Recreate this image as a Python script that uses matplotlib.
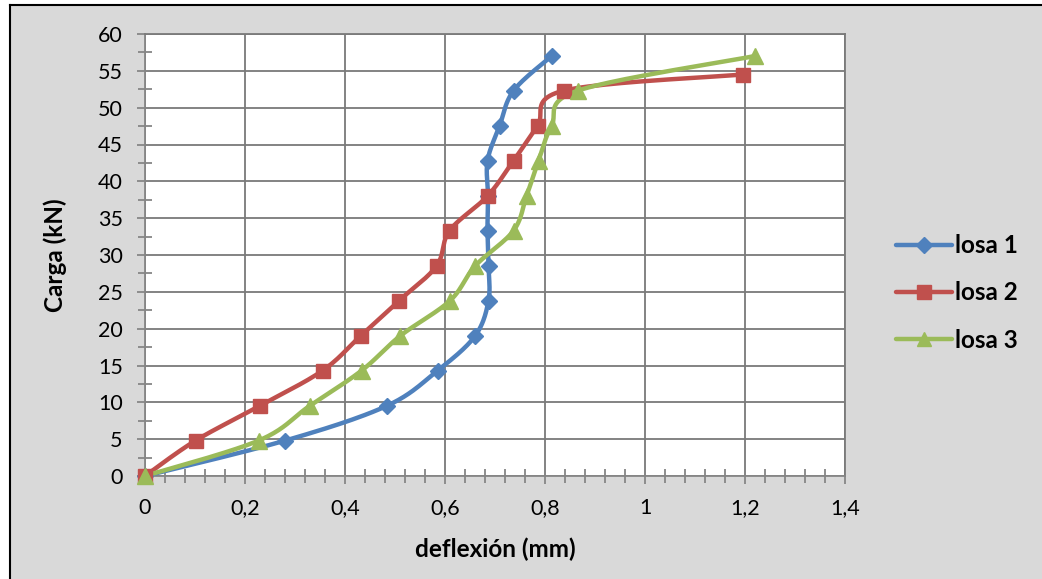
import numpy as np
import matplotlib
matplotlib.use("Agg")
import matplotlib.pyplot as plt
from matplotlib.patches import Rectangle
from matplotlib.lines import Line2D
from matplotlib.ticker import MultipleLocator, FuncFormatter

plt.rcParams['font.family'] = ['Lato', 'DejaVu Sans']

# Load–deflection readings for the three slabs
carga = [0, 4.8, 9.5, 14.3, 19.0, 23.8, 28.5, 33.3, 38.0, 42.8, 47.5, 52.3, 57.0]
losa1_x = [0, 0.28, 0.483, 0.585, 0.66, 0.687, 0.687, 0.685, 0.686, 0.685, 0.709, 0.737, 0.813]

carga2 = [0, 4.8, 9.5, 14.3, 19.0, 23.8, 28.5, 33.3, 38.0, 42.8, 47.5, 52.3, 54.5]
losa2_x = [0, 0.101, 0.229, 0.355, 0.431, 0.508, 0.583, 0.609, 0.685, 0.737, 0.785, 0.837, 1.195]

carga3 = [0, 4.8, 9.5, 14.3, 19.0, 23.8, 28.5, 33.3, 38.0, 42.8, 47.5, 52.3, 57.0]
losa3_x = [0, 0.227, 0.329, 0.433, 0.51, 0.61, 0.66, 0.737, 0.763, 0.787, 0.813, 0.865, 1.219]

series = [
    ("losa 1", losa1_x, carga, "#4F81BD", "D", 8.5),
    ("losa 2", losa2_x, carga2, "#C0504D", "s", 10),
    ("losa 3", losa3_x, carga3, "#9BBB59", "^", 11),
]


def smooth(xs, ys, n=24):
    """Catmull-Rom style cubic Bezier through every point."""
    p = np.column_stack([xs, ys]).astype(float)
    ext = np.vstack([p[0], p, p[-1]])
    out = [p[0]]
    t = np.linspace(0, 1, n)[1:, None]
    for i in range(len(p) - 1):
        p0, p1, p2, p3 = ext[i], ext[i + 1], ext[i + 2], ext[i + 3]
        c1 = p1 + (p2 - p0) / 6.0
        c2 = p2 - (p3 - p1) / 6.0
        seg = ((1 - t) ** 3) * p1 + 3 * ((1 - t) ** 2) * t * c1 + 3 * (1 - t) * t ** 2 * c2 + t ** 3 * p2
        out.extend(seg)
    out = np.array(out)
    return out[:, 0], out[:, 1]


W, H = 1042, 579
fig = plt.figure(figsize=(W / 100, H / 100), dpi=100, facecolor="white")

# Grey chart area with a dark frame on its left and top edges
fig.patches.append(Rectangle((9.5 / W, 0), 1, 1 - 4.5 / H, transform=fig.transFigure,
                             facecolor="#D9D9D9", edgecolor="none", zorder=-10))
fig.lines.append(Line2D([9.5 / W, 9.5 / W], [0, 1 - 4.5 / H], transform=fig.transFigure,
                        color="black", lw=1.5, zorder=-9))
fig.lines.append(Line2D([9.5 / W, 1], [1 - 4.5 / H, 1 - 4.5 / H], transform=fig.transFigure,
                        color="black", lw=1.5, zorder=-9))

ax = fig.add_axes([145 / W, 1 - 476 / H, 700 / W, 442 / H])
ax.set_facecolor("white")
ax.set_xlim(0, 1.4)
ax.set_ylim(0, 60)

ax.xaxis.set_major_locator(MultipleLocator(0.2))
ax.xaxis.set_minor_locator(MultipleLocator(0.04))
ax.yaxis.set_major_locator(MultipleLocator(5))
ax.yaxis.set_minor_locator(MultipleLocator(2.5))

def comma(v, pos):
    s = f"{v:.1f}".rstrip("0").rstrip(".")
    return s.replace(".", ",")

ax.xaxis.set_major_formatter(FuncFormatter(comma))
ax.yaxis.set_major_formatter(FuncFormatter(lambda v, p: f"{v:.0f}"))

ax.grid(True, which="major", color="#7A7A7A", lw=1.3)
ax.set_axisbelow(True)
for side in ("top", "right"):
    ax.spines[side].set_color("#7A7A7A")
    ax.spines[side].set_linewidth(1.3)
for side in ("left", "bottom"):
    ax.spines[side].set_color("#868686")
    ax.spines[side].set_linewidth(1.3)

ax.tick_params(which="major", direction="out", length=6, width=1.3, color="#868686",
               labelsize=15.5, labelcolor="black")
ax.tick_params(which="minor", direction="inout", length=10, width=1.3, color="#868686")
ax.tick_params(axis="x", which="major", pad=10)
ax.tick_params(axis="y", which="major", pad=10)

for name, xs, ys, col, mk, ms in series:
    sx, sy = smooth(xs, ys)
    ax.plot(sx, sy, color=col, lw=3.2, solid_capstyle="round", zorder=3, clip_on=False)
    ax.plot(xs, ys, linestyle="none", marker=mk, markersize=ms, color=col,
            markeredgecolor=col, zorder=4, clip_on=False)

ax.set_xlabel("deflexión (mm)", fontsize=17.5, fontweight="bold", labelpad=14)
ax.set_ylabel("Carga (kN)", fontsize=17.5, fontweight="bold", labelpad=22)

handles = [Line2D([0], [0], color=c, lw=3.2, marker=m, markersize=s * 0.95, solid_capstyle="round")
           for _, _, _, c, m, s in series]
leg = fig.legend(handles, [s[0] for s in series], loc="center left",
                 bbox_to_anchor=(874 / W, 1 - 293 / H), frameon=False,
                 prop={"size": 17.5, "weight": "bold"}, handlelength=2.3,
                 handletextpad=0.12, labelspacing=1.0)

fig.savefig("out.png", dpi=100, facecolor=fig.get_facecolor())
